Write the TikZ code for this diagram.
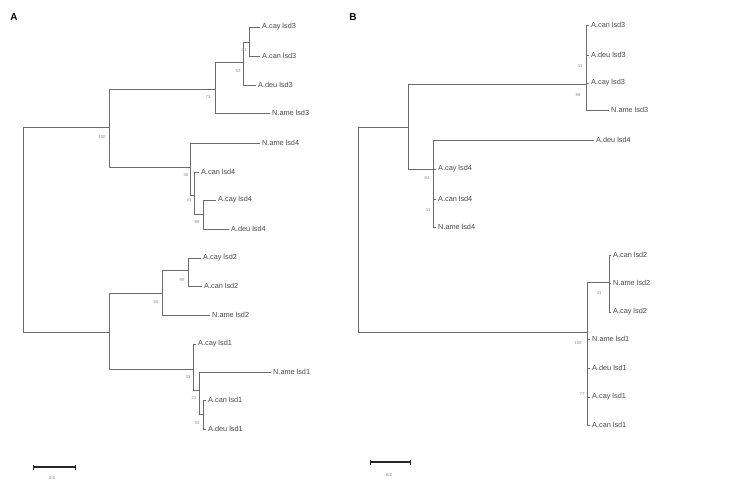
\documentclass[tikz,border=0pt]{standalone}
\usepackage{fontspec}
\setmainfont{Liberation Sans}
\begin{document}
\begin{tikzpicture}[x=1pt,y=-1pt,
  br/.style={draw=black!58,line width=0.9pt},
  leaf/.style={anchor=west,inner sep=2pt,font=\fontsize{7.3}{8}\selectfont,text=black!72},
  boot/.style={font=\fontsize{4.3}{5}\selectfont,text=black!45,inner sep=0pt},
  panel/.style={font=\bfseries\fontsize{10}{12}\selectfont,inner sep=0pt},
  sclab/.style={font=\fontsize{4.3}{5}\selectfont,text=black!55,inner sep=0pt},
  scbar/.style={draw=black!85,line width=1.4pt}]
\useasboundingbox (0,0) rectangle (749,484);
\fill[white] (0,0) rectangle (749,484);

\node[panel] (pA) at (14,17) {A};
\node[panel] (pB) at (353,17) {B};

% ---------------- Tree A ----------------
\coordinate (rA) at (23,230);
\coordinate (a1) at (109,127);
\coordinate (a2) at (215,89);
\coordinate (a3) at (243,62);
\coordinate (a4) at (249,42);
\coordinate (a5) at (190,167);
\coordinate (a6) at (194,195);
\coordinate (a7) at (203,214);
\coordinate (a8) at (109,332);
\coordinate (a9) at (162,293);
\coordinate (a10) at (188,270);
\coordinate (a11) at (193,369);
\coordinate (a12) at (199,390);
\coordinate (a13) at (203,414);

\node[leaf] (A1) at (260,27) {A.cay lsd3};
\node[leaf] (A2) at (260,56) {A.can lsd3};
\node[leaf] (A3) at (256,85) {A.deu lsd3};
\node[leaf] (A4) at (270,113) {N.ame lsd3};
\node[leaf] (A5) at (260,143) {N.ame lsd4};
\node[leaf] (A6) at (199,172) {A.can lsd4};
\node[leaf] (A7) at (216,200) {A.cay lsd4};
\node[leaf] (A8) at (229,229) {A.deu lsd4};
\node[leaf] (A9) at (201,258) {A.cay lsd2};
\node[leaf] (A10) at (202,286) {A.can lsd2};
\node[leaf] (A11) at (210,315) {N.ame lsd2};
\node[leaf] (A12) at (196,344) {A.cay lsd1};
\node[leaf] (A13) at (271,372) {N.ame lsd1};
\node[leaf] (A14) at (206,400) {A.can lsd1};
\node[leaf] (A15) at (206,429) {A.deu lsd1};

\draw[br] (rA) |- (a1);
\draw[br] (rA) |- (a8);
\draw[br] (a1) |- (a2);
\draw[br] (a1) |- (a5);
\draw[br] (a2) |- (a3);
\draw[br] (a2) |- (A4.west);
\draw[br] (a3) |- (a4);
\draw[br] (a3) |- (A3.west);
\draw[br] (a4) |- (A1.west);
\draw[br] (a4) |- (A2.west);
\draw[br] (a5) |- (A5.west);
\draw[br] (a5) |- (a6);
\draw[br] (a6) |- (A6.west);
\draw[br] (a6) |- (a7);
\draw[br] (a7) |- (A7.west);
\draw[br] (a7) |- (A8.west);
\draw[br] (a8) |- (a9);
\draw[br] (a8) |- (a11);
\draw[br] (a9) |- (a10);
\draw[br] (a9) |- (A11.west);
\draw[br] (a10) |- (A9.west);
\draw[br] (a10) |- (A10.west);
\draw[br] (a11) |- (A12.west);
\draw[br] (a11) |- (a12);
\draw[br] (a12) |- (A13.west);
\draw[br] (a12) |- (a13);
\draw[br] (a13) |- (A14.west);
\draw[br] (a13) |- (A15.west);

\node[boot] (bA1) at (102,137) {100};
\node[boot] (bA2) at (208,97) {73};
\node[boot] (bA3) at (244,50) {41};
\node[boot] (bA4) at (238,71) {53};
\node[boot] (bA5) at (186,175) {36};
\node[boot] (bA6) at (189,200) {31};
\node[boot] (bA7) at (197,222) {99};
\node[boot] (bA8) at (182,280) {99};
\node[boot] (bA9) at (156,302) {55};
\node[boot] (bA10) at (188,377) {33};
\node[boot] (bA11) at (194,398) {21};
\node[boot] (bA12) at (197,423) {53};

\coordinate (sA1) at (33,467);
\coordinate (sA2) at (75,467);
\draw[scbar] (sA1) -- (sA2);
\draw[scbar,line width=1pt] ([yshift=-2.5pt]sA1) -- ([yshift=2.5pt]sA1);
\draw[scbar,line width=1pt] ([yshift=-2.5pt]sA2) -- ([yshift=2.5pt]sA2);
\node[sclab] (lA) at (52,478) {0.5};

% ---------------- Tree B ----------------
\coordinate (rB) at (358,230);
\coordinate (b1) at (408,127);
\coordinate (b2) at (586,84);
\coordinate (b3) at (433,169);
\coordinate (b6) at (587,332);
\coordinate (b7) at (609,282);

\node[leaf] (B1) at (589,25) {A.can lsd3};
\node[leaf] (B2) at (589,55) {A.deu lsd3};
\node[leaf] (B3) at (589,83) {A.cay lsd3};
\node[leaf] (B4) at (609,110) {N.ame lsd3};
\node[leaf] (B5) at (594,140) {A.deu lsd4};
\node[leaf] (B6) at (436,169) {A.cay lsd4};
\node[leaf] (B7) at (436,199) {A.can lsd4};
\node[leaf] (B8) at (436,227) {N.ame lsd4};
\node[leaf] (B9) at (611,255) {A.can lsd2};
\node[leaf] (B10) at (611,283) {N.ame lsd2};
\node[leaf] (B11) at (611,312) {A.cay lsd2};
\node[leaf] (B12) at (590,339) {N.ame lsd1};
\node[leaf] (B13) at (590,368) {A.deu lsd1};
\node[leaf] (B14) at (590,397) {A.cay lsd1};
\node[leaf] (B15) at (590,425) {A.can lsd1};

\draw[br] (rB) |- (b1);
\draw[br] (rB) |- (b6);
\draw[br] (b1) |- (b2);
\draw[br] (b1) |- (b3);
\draw[br] (b2) |- (B1.west);
\draw[br] (b2) |- (B2.west);
\draw[br] (b2) |- (B3.west);
\draw[br] (b2) |- (B4.west);
\draw[br] (b3) |- (B5.west);
\draw[br] (b3) |- (B6.west);
\draw[br] (b3) |- (B7.west);
\draw[br] (b3) |- (B8.west);
\draw[br] (b6) |- (b7);
\draw[br] (b6) |- (B12.west);
\draw[br] (b6) |- (B13.west);
\draw[br] (b6) |- (B14.west);
\draw[br] (b6) |- (B15.west);
\draw[br] (b7) |- (B9.west);
\draw[br] (b7) |- (B10.west);
\draw[br] (b7) |- (B11.west);

\node[boot] (bB1) at (580,66) {41};
\node[boot] (bB2) at (578,95) {98};
\node[boot] (bB3) at (427,178) {64};
\node[boot] (bB4) at (428,210) {41};
\node[boot] (bB5) at (599,293) {41};
\node[boot] (bB6) at (578,343) {100};
\node[boot] (bB7) at (582,394) {77};

\coordinate (sB1) at (370,462);
\coordinate (sB2) at (410,462);
\draw[scbar] (sB1) -- (sB2);
\draw[scbar,line width=1pt] ([yshift=-2.5pt]sB1) -- ([yshift=2.5pt]sB1);
\draw[scbar,line width=1pt] ([yshift=-2.5pt]sB2) -- ([yshift=2.5pt]sB2);
\node[sclab] (lB) at (389,475) {0.2};
\end{tikzpicture}
\end{document}
